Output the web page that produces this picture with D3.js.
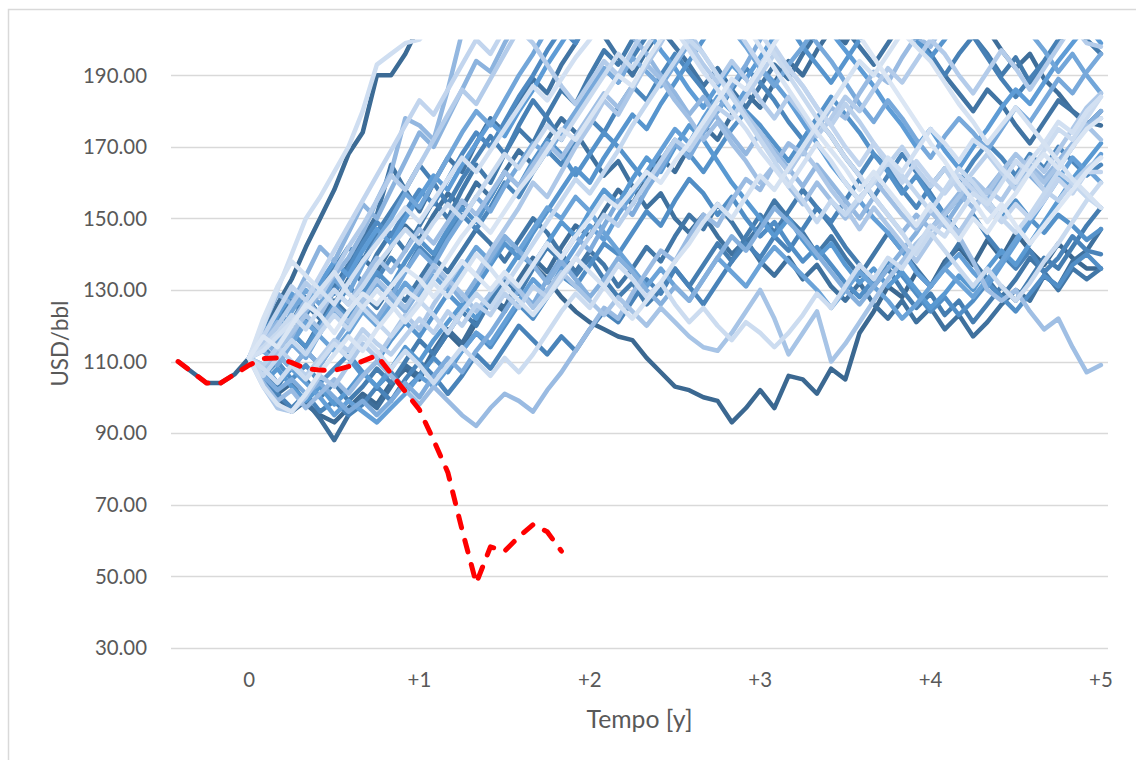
<!DOCTYPE html>
<html>
<head>
<meta charset="utf-8">
<script src="https://cdn.jsdelivr.net/npm/d3@7"></script>
<style>
  html, body { margin: 0; padding: 0; background: #fff; }
  svg { display: block; }
  text { font-family: Lato, "Open Sans", sans-serif; fill: #595959; }
</style>
</head>
<body>
<svg id="chart" width="1136" height="760"></svg>
<script>
// Monthly price paths (USD/bbl), month 0 .. +60
const sim00 = [111,106,101,104,98,95,93,97,101,98, 104,108,105,112,118,114,121,127,124,131, 137,133,128,124,121,119,117,116,111,107, 103,102,100,99,93,97,102,97,106,105, 101,108,105,118,124,131,128,135,131,138, 142,137,144,139,146,141,137,143,139,136, 136];
const sim01 = [111,118,126,133,142,150,158,168,174,190, 190,196,204,212,208,216,222,215,224,230, 226,234,240,232,238,244,236,230,238,245, 240,248,242,236,244,250,243,238,246,252, 246,240,248,254,247,242,250,256,249,244, 252,258,250,246,254,260,252,248,256,262, 258];
const sim02 = [111,104,100,96,99,94,88,95,100,97, 103,109,106,113,119,115,122,128,125,133, 139,135,142,148,145,152,158,154,161,167, 163,170,176,172,179,185,181,188,194,190, 197,203,199,206,212,207,214,219,213,220, 214,208,203,197,192,196,189,185,180,177, 176];
const sim03 = [111,116,121,117,124,130,126,133,139,135, 142,148,144,151,157,153,160,156,163,169, 165,172,178,174,168,162,166,159,153,157, 150,146,151,145,140,144,138,134,139,133, 137,131,127,132,126,122,127,121,125,119, 123,117,121,126,130,127,134,131,138,141, 147];
const sim04 = [111,117,113,120,126,122,130,137,144,151, 165,158,152,160,167,163,171,178,174,182, 189,185,193,199,206,201,195,190,197,203, 198,193,187,192,186,181,187,193,189,196, 202,208,203,198,193,199,205,200,195,190, 185,180,186,182,176,171,177,183,180,176, 180];
const sim05 = [111,108,113,118,114,121,127,123,129,125, 131,127,133,139,135,141,147,143,138,144, 150,146,140,135,141,137,131,136,142,138, 145,151,147,154,149,143,148,155,150,146, 140,145,139,134,140,146,141,136,131,137, 143,138,133,128,133,139,135,130,136,133, 136];
const sim06 = [111,119,114,121,128,123,131,137,132,140, 146,141,148,155,150,158,165,160,168,175, 171,179,186,182,190,197,193,200,206,201, 209,215,210,218,224,219,226,232,227,234, 240,235,229,223,230,236,231,225,219,213, 207,201,196,190,195,188,193,199,205,200, 196];
const sim07 = [111,107,103,109,105,100,104,99,103,108, 104,110,116,112,118,124,120,127,133,129, 136,142,138,134,139,133,128,132,126,130, 136,131,137,143,138,145,151,146,152,158, 153,148,142,137,131,136,130,125,129,123, 127,121,126,131,127,133,139,136,142,148, 153];
const sim08 = [111,115,121,127,123,130,136,142,138,146, 152,158,165,160,154,161,167,173,168,176, 183,178,172,179,185,192,188,195,201,208, 214,208,203,209,215,221,216,222,228,223, 217,211,206,212,218,213,207,201,196,190, 196,201,195,189,184,189,194,200,206,212, 217];
const sim09 = [111,105,101,97,101,96,99,95,98,103, 99,105,110,106,101,106,112,108,114,120, 116,112,117,113,119,124,121,127,133,129, 136,131,126,132,138,143,139,145,141,147, 153,149,155,161,156,162,168,163,157,151, 146,151,145,140,136,141,135,139,145,141, 140];
const sim10 = [111,114,110,116,122,118,125,131,127,133, 139,135,142,138,145,151,147,153,160,156, 163,169,165,172,178,174,181,187,183,190, 196,191,186,180,186,192,188,183,177,172, 178,173,167,162,168,164,158,153,159,164, 160,166,171,167,162,168,164,170,166,162, 165];
const sim11 = [111,118,124,120,127,133,129,136,143,149, 145,152,158,154,161,168,174,170,177,184, 190,197,203,199,206,212,208,215,221,217, 224,230,236,231,238,244,239,246,252,247, 254,260,255,262,268,263,270,276,271,278, 284,279,286,292,287,294,300,295,302,308, 304];
const sim12 = [111,106,110,105,109,104,108,112,107,103, 107,102,106,111,107,113,118,114,120,126, 122,128,134,131,137,143,140,146,152,148, 155,161,157,151,156,150,145,149,143,138, 142,137,132,128,133,138,134,129,124,128, 123,127,132,128,124,129,134,131,137,140, 136];
const sim13 = [111,116,122,118,114,120,126,122,129,135, 131,138,144,140,147,153,149,156,163,159, 166,172,168,162,168,174,170,165,160,166, 172,168,163,169,175,180,176,171,166,172, 178,184,179,174,168,163,157,162,156,151, 156,160,155,150,155,150,146,151,148,144, 147];
const sim14 = [111,109,104,108,113,109,115,111,106,110, 116,121,117,123,129,125,131,137,143,139, 146,152,158,164,160,167,173,179,175,182, 188,194,200,206,202,209,215,210,204,198, 193,188,194,200,205,211,206,200,195,200, 206,212,218,213,208,214,220,215,210,205, 201];
const sim15 = [111,104,108,103,99,103,98,102,107,103, 108,114,110,116,121,126,122,129,134,140, 137,143,149,145,152,158,154,161,167,163, 170,176,172,166,160,155,150,145,150,144, 139,143,137,132,136,131,135,130,125,129, 134,130,136,141,137,143,149,155,161,166, 171];
const sim16 = [111,117,123,129,125,132,138,134,141,147, 143,150,156,162,158,165,171,177,173,180, 186,193,199,205,201,208,214,209,203,197, 192,186,181,187,193,189,195,201,207,213, 208,202,197,192,187,181,176,170,175,169, 164,170,175,181,186,182,188,194,199,204, 199];
const sim17 = [111,107,112,108,104,100,95,99,96,93, 97,101,106,103,108,113,118,115,121,127, 133,129,136,142,148,144,151,157,163,169, 175,171,178,184,180,186,192,188,183,177, 171,165,160,155,150,146,141,135,131,136, 140,135,131,137,143,149,155,161,167,163, 168];
const sim18 = [111,114,119,115,121,117,113,118,124,120, 126,132,128,134,130,136,142,138,145,141, 147,153,150,156,152,146,141,136,131,136, 131,127,133,139,135,131,137,142,138,134, 130,125,130,135,131,127,122,126,131,136, 132,128,133,138,144,150,156,162,158,164, 160];
const sim19 = [111,120,116,124,130,126,133,129,137,144, 150,157,153,160,167,174,180,176,183,190, 196,203,209,215,210,216,222,218,224,230, 225,219,214,208,203,198,192,187,193,198, 204,210,205,211,217,213,219,225,220,214, 209,214,219,213,207,202,197,191,196,190, 185];
const sim20 = [111,113,109,115,111,118,124,120,126,132, 128,135,141,137,144,150,156,152,159,165, 171,168,174,180,186,192,188,195,191,187, 193,199,205,211,207,214,220,216,210,205, 199,194,188,182,177,183,178,172,167,173, 178,174,169,175,181,177,183,189,185,191, 196];
const sim21 = [111,106,102,105,101,104,100,96,99,95, 99,104,100,106,111,107,113,118,124,130, 126,133,139,145,141,148,155,151,158,164, 171,167,174,180,187,193,200,206,202,209, 215,221,216,222,228,223,229,235,230,236, 242,237,243,249,244,250,256,251,257,263, 258];
const sim22 = [111,116,112,108,113,109,115,121,126,122, 128,124,130,136,132,127,133,139,145,141, 137,132,138,133,128,133,139,135,130,126, 131,127,133,139,145,141,147,153,149,145, 140,135,130,126,131,136,141,146,152,148, 154,159,155,161,166,162,158,164,170,176, 180];
const sim23 = [111,120,129,126,134,142,138,146,154,150, 158,166,174,170,178,186,194,191,199,206, 213,209,216,223,219,226,232,228,235,241, 237,243,249,245,251,257,253,259,265,260, 266,272,268,274,280,276,282,288,284,290, 296,292,298,304,300,306,312,308,314,320, 316];
const sim24 = [111,116,121,117,124,129,134,139,146,155, 163,178,176,172,186,202,210,205,212,218, 214,220,226,222,217,212,207,201,196,190, 185,179,184,178,173,168,174,169,164,159, 165,160,155,150,156,151,146,151,147,152, 157,153,158,163,159,165,161,166,171,176, 178];
const sim25 = [111,104,99,102,97,101,105,101,106,110, 106,102,98,103,99,95,92,97,101,99, 96,102,107,113,119,125,122,129,135,141, 138,145,151,148,155,161,158,165,171,168, 175,181,178,185,191,188,195,201,198,205, 211,208,215,221,218,225,231,228,235,241, 238];
const sim26 = [111,118,114,121,127,123,130,126,133,139, 135,141,147,143,149,155,151,157,163,159, 165,171,167,173,179,185,181,187,193,189, 183,178,172,177,171,166,160,165,159,154, 160,155,150,155,161,156,151,147,152,148, 145,138,130,127,130,124,119,122,114,107, 109];
const sim27 = [111,108,113,118,123,119,125,121,127,133, 129,125,131,137,133,129,124,129,134,130, 125,130,135,131,127,123,128,124,120,125, 121,117,114,113,118,124,130,122,112,118, 124,110,115,121,127,133,138,143,147,151, 156,161,157,163,168,164,160,165,170,176, 172];
const sim28 = [111,103,97,96,100,106,103,109,115,111, 117,123,119,126,132,138,134,141,147,153, 160,156,163,170,176,183,179,186,193,199, 206,202,196,190,185,179,174,168,163,169, 164,158,153,147,153,148,143,138,144,150, 146,152,158,155,161,167,163,169,175,181, 185];
const sim29 = [111,115,120,126,132,128,135,142,148,155, 162,158,165,172,179,186,182,189,196,203, 199,193,187,182,188,194,190,197,204,210, 205,199,193,188,194,189,183,178,184,179, 173,178,184,180,186,192,188,194,200,196, 190,185,191,197,192,186,192,198,204,199, 198];
const sim30 = [111,109,114,110,106,111,116,113,119,115, 112,117,122,118,124,120,126,123,129,125, 131,128,133,139,145,151,148,154,160,166, 172,169,175,181,178,184,190,196,192,187, 181,176,182,177,171,165,170,164,159,164, 158,163,168,163,158,163,158,155,160,164, 167];
const sim31 = [111,117,124,131,127,134,141,148,155,162, 169,176,183,179,186,193,200,196,203,210, 206,212,218,214,220,227,223,230,236,232, 226,221,215,210,205,199,193,198,192,187, 181,176,170,165,171,166,160,166,161,157, 162,158,153,149,154,150,155,161,157,163, 163];
const sim32 = [111,106,111,116,112,118,123,119,125,121, 117,122,127,123,118,124,129,125,131,137, 143,149,155,161,157,163,169,176,182,188, 194,200,196,190,184,178,172,166,160,155, 149,155,151,156,160,166,162,157,152,158, 164,160,155,150,146,151,157,163,160,156, 153];
const sim33 = [111,114,118,123,119,125,130,126,131,137, 142,147,143,149,154,150,156,162,168,164, 170,176,172,178,184,190,196,192,198,204, 210,216,222,218,213,207,202,196,190,184, 178,173,167,162,156,151,146,140,146,141, 136,131,136,131,127,132,138,143,149,155, 160];
const sim34 = [111,108,104,109,105,110,115,111,117,113, 108,113,109,104,109,114,110,106,111,107, 112,118,124,129,125,131,137,133,128,132, 126,121,125,120,116,121,118,114,118,123, 129,125,131,137,133,139,136,142,148,145, 151,157,154,160,166,163,169,175,172,178, 184];
const sim35 = [111,120,130,140,150,156,163,170,180,193, 196,199,200,205,211,207,214,220,216,222, 228,224,230,236,232,238,244,240,246,252, 248,254,260,256,262,268,264,270,276,272, 278,284,280,286,292,288,294,300,296,302, 308,304,310,316,312,318,324,320,326,332, 328];
const sim36 = [111,113,117,121,125,130,126,132,138,143, 148,153,149,155,161,167,163,169,175,181, 187,183,189,195,200,206,212,208,214,209, 203,197,191,186,180,175,169,164,159,165, 171,166,160,155,161,167,163,169,175,171, 166,172,169,164,160,166,171,177,174,180, 184];
const sim37 = [111,122,131,138,134,130,135,129,125,130, 126,121,126,132,128,134,140,136,131,127, 123,128,134,139,135,131,126,122,127,132, 138,143,149,154,150,156,162,158,164,170, 176,182,188,194,190,196,202,198,194,188, 182,177,171,176,181,176,171,166,161,157, 153];
const sim38 = [111,103,98,96,101,107,112,117,113,119, 124,130,127,133,139,145,150,146,152,158, 163,169,175,172,178,184,190,187,194,200, 206,212,208,214,210,204,198,192,186,180, 174,169,164,158,163,158,153,148,154,149, 144,150,146,152,157,163,168,164,170,175, 178];
const sim39 = [111,117,114,120,126,123,118,124,129,126, 131,136,133,128,133,138,134,130,135,131, 137,143,139,145,150,156,153,158,163,160, 166,171,177,183,189,186,192,199,205,211, 217,213,207,201,195,189,183,177,171,166, 160,155,149,154,148,143,148,153,158,163, 167];

const simSeries = [sim00, sim01, sim02, sim03, sim04, sim05, sim06, sim07, sim08, sim09,
                   sim10, sim11, sim12, sim13, sim14, sim15, sim16, sim17, sim18, sim19,
                   sim20, sim21, sim22, sim23, sim24, sim25, sim26, sim27, sim28, sim29,
                   sim30, sim31, sim32, sim33, sim34, sim35, sim36, sim37, sim38, sim39];

// Observed history before month 0
const historyMonths = [-5, -4, -3, -2, -1, 0];
const historyValues = [110, 107, 104, 104, 106.5, 111];

// Realised price (red dashed)
const actualMonths = [-5,-4,-3,-2,-1,0,1,2,3,4,5,6,7,8,9,10,11,12,13,14,15,16,17,18,19,20,21,22];
const actualValues = [110,107,104,104,106.5,109,110.8,111,109.7,108,107.6,107.5,108.6,110.1,111.7,106.6,101.6,96.5,88,79,63,48,58.2,57,61,64.4,62.4,57];

// Axis ticks
const yTicks = [30, 50, 70, 90, 110, 130, 150, 170, 190];
const xTickMonths = [0, 12, 24, 36, 48, 60];
const xTickLabels = ["0", "+1", "+2", "+3", "+4", "+5"];

const svg = d3.select("#chart");

// Chart area outline
svg.append("rect")
  .attr("x", 8.5).attr("y", 9.5)
  .attr("width", 1200).attr("height", 800)
  .attr("fill", "#fff")
  .attr("stroke", "#d9d9d9").attr("stroke-width", 1.5);

const plot = { left: 171, right: 1108, top: 39.6, bottom: 647.7 };

const x = d3.scaleLinear().domain([-5.5, 60.5]).range([plot.left, plot.right]);
const y = d3.scaleLinear().domain([30, 200]).range([plot.bottom, plot.top]);

// Size a label's font so that the text spans the given width
function fitFont(sel, width) {
  sel.attr("font-size", 20);
  const len = sel.node().getComputedTextLength();
  const size = 20 * width / len;
  sel.attr("font-size", size);
  return size;
}

// Gridlines
svg.append("g")
  .selectAll("line")
  .data(yTicks)
  .join("line")
  .attr("x1", plot.left).attr("x2", plot.right)
  .attr("y1", d => Math.round(y(d)) + 0.5).attr("y2", d => Math.round(y(d)) + 0.5)
  .attr("stroke", "#d9d9d9").attr("stroke-width", 1.3);

// Y tick labels
const fmt = d3.format(".2f");
const yLabels = svg.append("g")
  .selectAll("text")
  .data(yTicks)
  .join("text")
  .attr("x", 147)
  .attr("y", d => y(d))
  .attr("dy", "0.36em")
  .attr("text-anchor", "end")
  .text(d => fmt(d));
const tickSize = fitFont(yLabels.filter(d => d === 190), 64);
yLabels.attr("font-size", tickSize);

// X tick labels
svg.append("g")
  .selectAll("text")
  .data(xTickMonths)
  .join("text")
  .attr("x", d => x(d))
  .attr("y", 680)
  .attr("dy", "0.36em")
  .attr("text-anchor", "middle")
  .attr("font-size", tickSize)
  .text((d, i) => xTickLabels[i]);

// Axis titles
const xTitle = svg.append("text")
  .attr("x", (plot.left + plot.right) / 2)
  .attr("y", 719)
  .attr("dy", "0.36em")
  .attr("text-anchor", "middle")
  .text("Tempo [y]");
fitFont(xTitle, 106);

const yTitle = svg.append("text")
  .attr("transform", `translate(60,${(plot.top + plot.bottom) / 2}) rotate(-90)`)
  .attr("dy", "0.36em")
  .attr("text-anchor", "middle")
  .text("USD/bbl");
fitFont(yTitle, 86);

// Clip the paths to the plotting area
svg.append("clipPath").attr("id", "plot-clip")
  .append("rect")
  .attr("x", plot.left).attr("y", plot.top)
  .attr("width", plot.right - plot.left).attr("height", plot.bottom - plot.top);

const lines = svg.append("g").attr("clip-path", "url(#plot-clip)");

// Monochromatic blue ramp, dark series drawn first
const shade = d3.piecewise(d3.interpolateRgb, ["#3b6891", "#467fb4", "#5b9bd5", "#8fb4df", "#c3d6ee", "#dbe6f4"]);

const line = d3.line()
  .x(d => x(d[0]))
  .y(d => y(d[1]))
  .curve(d3.curveLinear);

lines.append("path")
  .datum(historyMonths.map((m, i) => [m, historyValues[i]]))
  .attr("d", line)
  .attr("fill", "none")
  .attr("stroke", "#3b6891")
  .attr("stroke-width", 4.5)
  .attr("stroke-linejoin", "round")
  .attr("stroke-linecap", "round");

simSeries.forEach((vals, k) => {
  lines.append("path")
    .datum(vals.map((v, i) => [i, v]))
    .attr("d", line)
    .attr("fill", "none")
    .attr("stroke", shade(k / (simSeries.length - 1)))
    .attr("stroke-width", 4.5)
    .attr("stroke-linejoin", "round")
    .attr("stroke-linecap", "round");
});

lines.append("path")
  .datum(actualMonths.map((m, i) => [m, actualValues[i]]))
  .attr("d", line)
  .attr("fill", "none")
  .attr("stroke", "#ff0000")
  .attr("stroke-width", 5)
  .attr("stroke-dasharray", "12,13")
  .attr("stroke-linejoin", "round")
  .attr("stroke-linecap", "round");
</script>
</body>
</html>
